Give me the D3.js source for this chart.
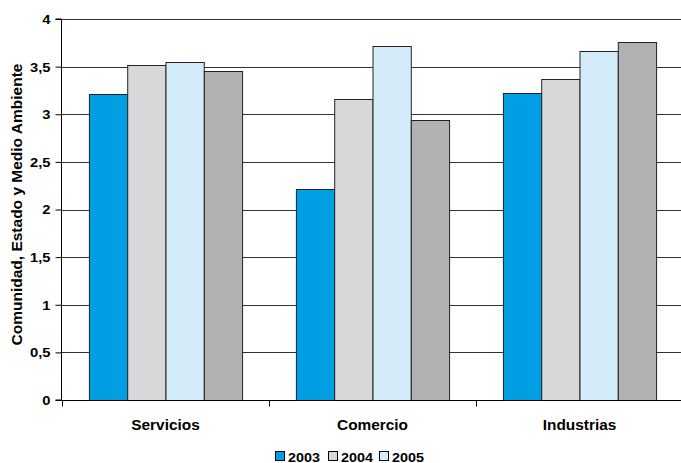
<!DOCTYPE html>
<html>
<head>
<meta charset="utf-8">
<script src="https://cdn.jsdelivr.net/npm/d3@7"></script>
<style>
  html, body { margin: 0; padding: 0; background: #fff; }
  text { font-family: "Liberation Sans", Arial, sans-serif; font-weight: bold; fill: #000; }
</style>
</head>
<body>
<svg id="chart" width="681" height="463"></svg>
<script>
const categories = ["Servicios", "Comercio", "Industrias"];
const seriesNames = ["2003", "2004", "2005", "Serie4"];
const legendNames = ["2003", "2004", "2005"];
const seriesColors = ["#009FE3", "#D8D8DA", "#D4EBF9", "#B1B1B3"];
const values2003 = [3.21, 2.22, 3.22];
const values2004 = [3.52, 3.16, 3.37];
const values2005 = [3.55, 3.72, 3.66];
const values4 = [3.45, 2.94, 3.76];
const yTicks = [0, 0.5, 1, 1.5, 2, 2.5, 3, 3.5, 4];
const yTickLabels = ["0", "0,5", "1", "1,5", "2", "2,5", "3", "3,5", "4"];
const yTitle = "Comunidad, Estado y Medio Ambiente";

const seriesValues = [values2003, values2004, values2005, values4];

const svg = d3.select("#chart");
const mLeft = 62, mRight = 683, mTop = 19, mBottom = 400;

const y = d3.scaleLinear().domain([0, 4]).range([mBottom, mTop]);
const x0 = d3.scaleBand().domain(categories).range([mLeft, mRight]).padding(0);
const gw = x0.bandwidth();
const x1 = d3.scaleBand().domain(seriesNames).range([gw * 0.13, gw * 0.87]).padding(0);

// gridlines
svg.append("g").selectAll("line").data(yTicks.filter(d => d > 0)).join("line")
  .attr("x1", mLeft).attr("x2", 681)
  .attr("y1", d => Math.round(y(d)) + 0.5).attr("y2", d => Math.round(y(d)) + 0.5)
  .attr("stroke", "#333").attr("stroke-width", 1);

// bars
const groups = svg.append("g").selectAll("g").data(categories).join("g")
  .attr("transform", d => `translate(${x0(d)},0)`);
groups.selectAll("rect").data((c, ci) => seriesNames.map((s, si) => ({s, si, v: seriesValues[si][ci]})))
  .join("rect")
  .attr("x", d => x1(d.s) + 0.5)
  .attr("y", d => Math.round(y(d.v)) + 0.5)
  .attr("width", x1.bandwidth())
  .attr("height", d => Math.round(mBottom) - Math.round(y(d.v)))
  .attr("fill", d => seriesColors[d.si])
  .attr("stroke", "#222").attr("stroke-width", 1);

// y axis
const yAxis = d3.axisLeft(y).tickValues(yTicks).tickSize(6).tickPadding(6)
  .tickFormat((d, i) => yTickLabels[i]);
const ya = svg.append("g").attr("transform", `translate(${mLeft - 0.5},0)`).call(yAxis);
ya.select(".domain").attr("stroke", "#000").attr("d", `M-6,${y(4)}H0V${mBottom}H-6`);
ya.selectAll(".tick line").attr("stroke", "#000");
ya.selectAll(".tick text").attr("font-size", 12.5).attr("font-family", null)
  .attr("transform", "scale(1.18,1)").attr("x", -11 / 1.18).attr("dy", "0.35em");

// x axis
const xa = svg.append("g").attr("transform", `translate(0,${mBottom + 0.5})`);
xa.append("line").attr("x1", mLeft - 0.5).attr("x2", 681).attr("y1", 0).attr("y2", 0).attr("stroke", "#000");
xa.selectAll("line.tk").data([mLeft, ...categories.slice(1).map(c => x0(c))]).join("line")
  .attr("class", "tk")
  .attr("x1", d => Math.round(d) + 0.5).attr("x2", d => Math.round(d) + 0.5)
  .attr("y1", 0).attr("y2", 6).attr("stroke", "#000");
xa.selectAll("text").data(categories).join("text")
  .attr("transform", d => `translate(${x0(d) + gw / 2},29.5) scale(1.1,1)`)
  .attr("text-anchor", "middle").attr("font-size", 14).text(d => d);

// y title
svg.append("text")
  .attr("transform", `translate(21.5,${(mTop + mBottom) / 2 - 5}) rotate(-90)`)
  .attr("text-anchor", "middle").attr("font-size", 15.5).text(yTitle);

// legend
const legX = [275, 328, 379];
const lg = svg.append("g").selectAll("g").data(legendNames).join("g")
  .attr("transform", (d, i) => `translate(${legX[i]},451)`);
lg.append("rect").attr("x", 0.5).attr("y", 0.5).attr("width", 9).attr("height", 9)
  .attr("fill", (d, i) => seriesColors[i]).attr("stroke", "#000");
lg.append("text").attr("transform", "translate(13,10.5) scale(1.15,1)")
  .attr("font-size", 12.5).text(d => d);
</script>
</body>
</html>
